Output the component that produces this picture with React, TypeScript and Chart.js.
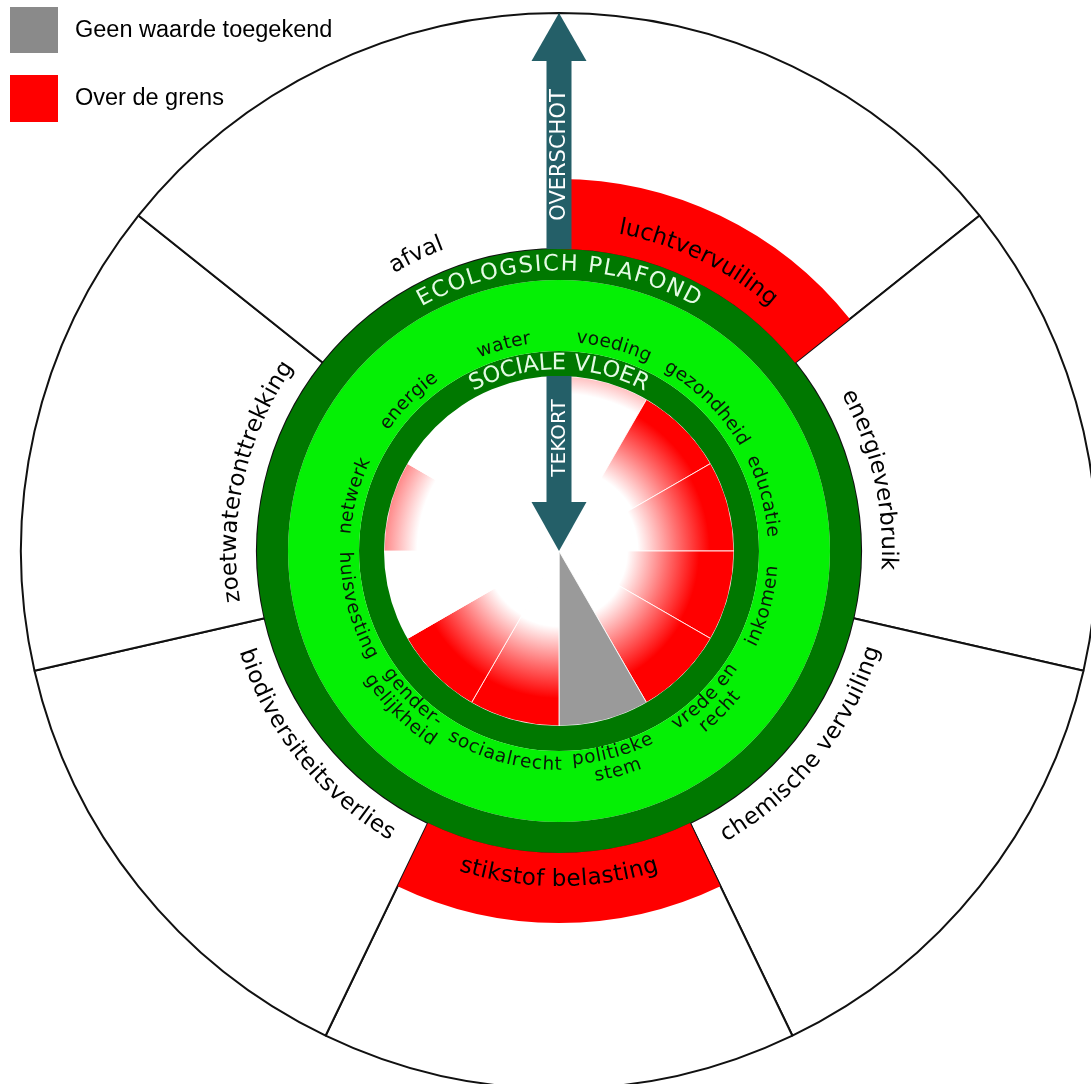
import React, { useEffect, useRef } from 'react';
import { Chart, registerables } from 'chart.js';

Chart.register(...registerables);

// ---------- data ----------
const ecoCategories = [
  'luchtvervuiling',
  'energieverbruik',
  'chemische vervuiling',
  'stikstof belasting',
  'biodiversiteitsverlies',
  'zoetwateronttrekking',
  'afval',
];
// true = over de grens (ecologisch plafond overschreden)
const ecoOverLimit = [true, false, false, true, false, false, false];

const socialCategories = [
  'voeding',
  'gezondheid',
  'educatie',
  'inkomen',
  'vrede en\nrecht',
  'politieke\nstem',
  'sociaalrecht',
  'gender-\ngelijkheid',
  'huisvesting',
  'netwerk',
  'energie',
  'water',
];
// shortfall as fraction of the social floor; null = geen waarde toegekend
const socialShortfall: (number | null)[] = [0.1, 0.52, 0.55, 0.61, 0.6, null, 0.57, 0.58, 0, 0.19, 0, 0];

const legendLabels = ['Geen waarde toegekend', 'Over de grens'];

// ---------- style ----------
const W = 1118;
const H = 1102;
const R_OUT = 538;
const R_OVER = 372;
const R_CEIL = 302;
const R_CEIL_IN = 271;
const R_FLOOR_OUT = 200;
const R_FLOOR = 175;
const FADE = 72;

const RED = '#ff0000';
const GRAY = '#9a9a9a';
const LEGEND_GRAY = '#8a8a8a';
const DARK_GREEN = '#007800';
const LIGHT_GREEN = '#05f005';
const ARROW = '#245f68';
const TITLE_COLOR = '#e4fbe4';
const FONT = '"DejaVu Sans", Verdana, sans-serif';

function isFlipped(mid: number) {
  let deg = ((mid + Math.PI / 2) * 180) / Math.PI % 360;
  if (deg < 0) deg += 360;
  return deg > 90 && deg < 270;
}

function drawCurvedText(
  ctx: CanvasRenderingContext2D,
  text: string,
  cx: number,
  cy: number,
  r: number,
  mid: number,
  flipped: boolean,
  spacing: number
) {
  const chars = Array.from(text);
  const widths = chars.map((ch) => ctx.measureText(ch).width);
  const total = widths.reduce((s, w) => s + w, 0) + spacing * (chars.length - 1);
  const dir = flipped ? -1 : 1;
  let a = mid - (dir * total) / (2 * r);
  chars.forEach((ch, i) => {
    const w = widths[i];
    const ang = a + (dir * (w / 2)) / r;
    ctx.save();
    ctx.translate(cx + r * Math.cos(ang), cy + r * Math.sin(ang));
    ctx.rotate(flipped ? ang - Math.PI / 2 : ang + Math.PI / 2);
    ctx.fillText(ch, 0, 0);
    ctx.restore();
    a += (dir * (w + spacing)) / r;
  });
}

const textPlugin = {
  id: 'doughnutText',
  afterDatasetsDraw(chart: any) {
    const ctx: CanvasRenderingContext2D = chart.ctx;
    const ca = chart.chartArea;
    const cx = (ca.left + ca.right) / 2;
    const cy = (ca.top + ca.bottom) / 2;
    ctx.save();
    ctx.textAlign = 'center';
    ctx.textBaseline = 'middle';

    // ecological labels
    ctx.font = `23px ${FONT}`;
    ctx.fillStyle = '#000';
    const ecoMeta = chart.getDatasetMeta(0);
    ecoMeta.data.forEach((arc: any, i: number) => {
      const mid = (arc.startAngle + arc.endAngle) / 2;
      drawCurvedText(ctx, ecoCategories[i], cx, cy, 329, mid, isFlipped(mid), 0.2);
    });

    // social labels
    ctx.font = `18.5px ${FONT}`;
    ctx.fillStyle = '#0a160a';
    const socMeta = chart.getDatasetMeta(4);
    socMeta.data.forEach((arc: any, i: number) => {
      const mid = (arc.startAngle + arc.endAngle) / 2;
      const flipped = isFlipped(mid);
      const lines = socialCategories[i].split('\n');
      const radii = lines.length === 1 ? [214] : flipped ? [209, 228] : [228, 209];
      lines.forEach((ln, k) => drawCurvedText(ctx, ln, cx, cy, radii[k], mid, flipped, 0.5));
    });

    // ring titles
    ctx.fillStyle = TITLE_COLOR;
    ctx.font = `22.5px ${FONT}`;
    drawCurvedText(ctx, 'ECOLOGSICH PLAFOND', cx, cy, (R_CEIL + R_CEIL_IN) / 2, -Math.PI / 2, false, 1.8);
    ctx.font = `22.5px ${FONT}`;
    drawCurvedText(ctx, 'SOCIALE VLOER', cx, cy, (R_FLOOR + R_FLOOR_OUT) / 2, -Math.PI / 2, false, 0.4);

    // arrows
    const shaftW = 25;
    const headW = 55;
    ctx.fillStyle = ARROW;
    // overshoot arrow (upwards)
    ctx.fillRect(cx - shaftW / 2, cy - 491, shaftW, 491 - R_CEIL);
    ctx.beginPath();
    ctx.moveTo(cx - headW / 2, cy - 490);
    ctx.lineTo(cx + headW / 2, cy - 490);
    ctx.lineTo(cx, cy - R_OUT);
    ctx.closePath();
    ctx.fill();
    // shortfall arrow (downwards)
    ctx.fillRect(cx - shaftW / 2, cy - R_FLOOR, shaftW, R_FLOOR - 48);
    ctx.beginPath();
    ctx.moveTo(cx - headW / 2, cy - 49);
    ctx.lineTo(cx + headW / 2, cy - 49);
    ctx.lineTo(cx, cy);
    ctx.closePath();
    ctx.fill();

    ctx.fillStyle = '#ffffff';
    ctx.font = `21px ${FONT}`;
    ctx.save();
    ctx.translate(cx + 0.5, cy - 396);
    ctx.rotate(-Math.PI / 2);
    ctx.fillText('OVERSCHOT', 0, 0);
    ctx.restore();
    ctx.font = `20px ${FONT}`;
    ctx.save();
    ctx.translate(cx + 0.5, cy - 113);
    ctx.rotate(-Math.PI / 2);
    ctx.fillText('TEKORT', 0, 0);
    ctx.restore();

    ctx.restore();
  },
};

function shortfallColor(c: any) {
  const v = socialShortfall[c.dataIndex];
  if (v === null || v === undefined) return GRAY;
  if (v <= 0) return '#ffffff';
  const chart = c.chart;
  const ca = chart.chartArea;
  if (!ca) return RED;
  const cx = (ca.left + ca.right) / 2;
  const cy = (ca.top + ca.bottom) / 2;
  const r0 = R_FLOOR * (1 - v);
  const g = chart.ctx.createRadialGradient(cx, cy, r0, cx, cy, r0 + FADE);
  g.addColorStop(0, '#ffffff');
  g.addColorStop(0.55, '#ff7070');
  g.addColorStop(1, RED);
  return g;
}

export default function App() {
  const ecoRef = useRef<HTMLCanvasElement>(null);
  const topRef = useRef<HTMLCanvasElement>(null);

  useEffect(() => {
    document.body.style.margin = '0';
    const common = {
      responsive: false,
      animation: false as const,
      events: [] as any[],
      layout: { padding: 0 },
      plugins: { legend: { display: false }, tooltip: { enabled: false } },
    };
    const eco = new Chart(ecoRef.current!, {
      type: 'doughnut',
      data: {
        labels: ecoCategories,
        datasets: [
          {
            data: ecoCategories.map(() => 1),
            backgroundColor: '#ffffff',
            borderColor: '#111111',
            borderWidth: 2,
          },
        ],
      },
      options: { ...common, radius: R_OUT, cutout: `${(R_CEIL / R_OUT) * 100}%` } as any,
    });
    const top = new Chart(topRef.current!, {
      type: 'doughnut',
      data: {
        labels: socialCategories,
        datasets: [
          {
            data: ecoCategories.map(() => 1),
            backgroundColor: ecoOverLimit.map((o) => (o ? RED : 'rgba(0,0,0,0)')),
            borderWidth: 0,
            weight: R_OVER - R_CEIL,
          } as any,
          { data: [1], backgroundColor: DARK_GREEN, borderWidth: 0, weight: R_CEIL - R_CEIL_IN },
          { data: [1], backgroundColor: LIGHT_GREEN, borderWidth: 0, weight: R_CEIL_IN - R_FLOOR_OUT },
          { data: [1], backgroundColor: DARK_GREEN, borderWidth: 0, weight: R_FLOOR_OUT - R_FLOOR },
          {
            data: socialCategories.map(() => 1),
            backgroundColor: shortfallColor,
            borderColor: 'rgba(255,255,255,0.85)',
            borderWidth: 1,
            weight: R_FLOOR,
          },
        ],
      },
      options: { ...common, radius: R_OVER, cutout: 0 } as any,
      plugins: [textPlugin],
    });
    return () => {
      eco.destroy();
      top.destroy();
    };
  }, []);

  const legendFont: React.CSSProperties = {
    position: 'absolute',
    left: 75,
    fontFamily: '"Liberation Sans", Arial, sans-serif',
    fontSize: 23.5,
    lineHeight: '23px',
    color: '#000',
    whiteSpace: 'nowrap',
  };

  return (
    <div
      style={{
        position: 'fixed',
        left: 0,
        top: 0,
        width: 1091,
        height: 1084,
        overflow: 'hidden',
        background: '#fff',
      }}
    >
      <canvas ref={ecoRef} width={W} height={H} style={{ position: 'absolute', left: 0, top: 0 }} />
      <canvas ref={topRef} width={W} height={H} style={{ position: 'absolute', left: 0, top: 0 }} />
      <div style={{ position: 'absolute', left: 10, top: 7, width: 48, height: 46, background: LEGEND_GRAY }} />
      <div style={{ ...legendFont, top: 17.5 }}>{legendLabels[0]}</div>
      <div style={{ position: 'absolute', left: 10, top: 75, width: 48, height: 47, background: RED }} />
      <div style={{ ...legendFont, top: 85.5 }}>{legendLabels[1]}</div>
    </div>
  );
}
